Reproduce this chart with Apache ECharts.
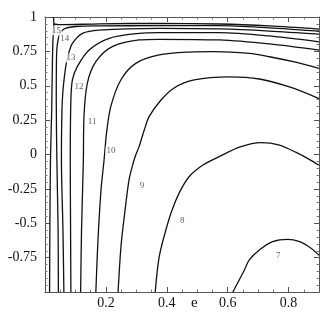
<!DOCTYPE html>
<html>
<head>
<meta charset="utf-8">
<script src="https://cdn.jsdelivr.net/npm/echarts@6/dist/echarts.min.js"></script>
<style>
  html, body { margin: 0; padding: 0; background: #fff; }
  #chart { width: 320px; height: 320px; }
</style>
</head>
<body>
<div id="chart"></div>
<script>
// contour levels, each line as [e, a]
const levels = [15, 14, 13, 12, 11, 10, 9, 8, 7];

const level15 = [
  [0.015, -1], [0.016, -0.549], [0.018, -0.04], [0.022, 0.324], [0.024, 0.615],
  [0.026, 0.833], [0.029, 0.949], [0.028, 1]
];
// branch of 15 running along the top
const level15b = [
  [0.029, 0.949], [0.046, 0.944], [0.178, 0.950], [0.375, 0.954], [0.572, 0.949],
  [0.737, 0.935], [0.9, 0.912]
];
const level14 = [
  [0.044, -1], [0.043, -0.549], [0.039, -0.04], [0.037, 0.396], [0.038, 0.724],
  [0.046, 0.862], [0.0625, 0.913], [0.101, 0.931], [0.178, 0.935], [0.375, 0.937],
  [0.572, 0.937], [0.737, 0.921], [0.9, 0.897]
];
const level13 = [
  [0.062, -1], [0.059, -0.549], [0.054, -0.04], [0.057, 0.396], [0.068, 0.639],
  [0.079, 0.745], [0.090, 0.809], [0.123, 0.881], [0.178, 0.905], [0.375, 0.917],
  [0.572, 0.913], [0.737, 0.898], [0.9, 0.875]
];
const level12 = [
  [0.085, -1], [0.084, -0.549], [0.083, -0.04], [0.085, 0.396], [0.090, 0.542],
  [0.106, 0.639], [0.145, 0.760], [0.211, 0.845], [0.309, 0.881], [0.375, 0.886],
  [0.572, 0.886], [0.737, 0.862], [0.9, 0.819]
];
const level11 = [
  [0.117, -1], [0.120, -0.549], [0.126, -0.04], [0.128, 0.275], [0.139, 0.518],
  [0.167, 0.675], [0.221, 0.784], [0.309, 0.833], [0.375, 0.838], [0.572, 0.833],
  [0.737, 0.804], [0.9, 0.759]
];
const level10 = [
  [0.167, -1], [0.174, -0.622], [0.184, -0.258], [0.194, -0.04], [0.202, 0.154],
  [0.216, 0.348], [0.249, 0.542], [0.298, 0.663], [0.375, 0.724], [0.474, 0.745],
  [0.556, 0.748], [0.671, 0.735], [0.737, 0.711], [0.819, 0.673], [0.9, 0.626]
];
const level9 = [
  [0.240, -1], [0.250, -0.658], [0.263, -0.404], [0.276, -0.185], [0.288, -0.076],
  [0.298, -0.004], [0.309, 0.057], [0.326, 0.178], [0.342, 0.275], [0.381, 0.396],
  [0.424, 0.484], [0.490, 0.542], [0.605, 0.564], [0.704, 0.549], [0.803, 0.491],
  [0.9, 0.407]
];
const level8 = [
  [0.362, -1], [0.375, -0.745], [0.397, -0.549], [0.418, -0.400], [0.443, -0.270],
  [0.474, -0.160], [0.520, -0.075], [0.572, -0.016], [0.641, 0.055], [0.710, 0.086],
  [0.770, 0.069], [0.825, 0.015], [0.868, -0.035], [0.9, -0.078]
];
const level7 = [
  [0.617, -1], [0.655, -0.840], [0.671, -0.767], [0.704, -0.695], [0.748, -0.634],
  [0.797, -0.617], [0.836, -0.634], [0.874, -0.682], [0.9, -0.733]
];

const contourLines = [level15, level15b, level14, level13, level12, level11, level10, level9, level8, level7];

// contour labels
const labelText = ['15', '14', '13', '12', '11', '10', '9', '8', '7'];
const labelE = [0.037, 0.065, 0.085, 0.112, 0.155, 0.217, 0.319, 0.451, 0.766];
const labelA = [0.900, 0.840, 0.702, 0.491, 0.236, 0.025, -0.229, -0.484, -0.738];

const serif = "'Liberation Serif', 'DejaVu Serif', serif";

const chart = echarts.init(document.getElementById('chart'));

const frameAxis = (extra) => Object.assign({
  type: 'value',
  axisLine: { show: true, onZero: false, lineStyle: { color: '#555', width: 1 } },
  axisTick: { show: true, inside: true, length: 5, lineStyle: { color: '#555' } },
  minorTick: { show: true, length: 2.5, lineStyle: { color: '#777' } },
  splitLine: { show: false },
}, extra);

const option = {
  animation: false,
  grid: { left: 45, right: 1, top: 17, bottom: 28, containLabel: false, outerBoundsMode: 'none' },
  xAxis: [
    frameAxis({
      min: 0, max: 0.9, interval: 0.2, position: 'bottom',
      minorTick: { show: true, splitNumber: 4, length: 2.5, lineStyle: { color: '#777' } },
      axisLabel: {
        showMinLabel: false, showMaxLabel: false, margin: 4,
        color: '#111', fontFamily: serif, fontSize: 14,
      },
    }),
    frameAxis({
      min: 0, max: 0.9, interval: 0.2, position: 'top',
      minorTick: { show: true, splitNumber: 4, length: 2.5, lineStyle: { color: '#777' } },
      axisLabel: { show: false },
    }),
  ],
  yAxis: [
    frameAxis({
      min: -1, max: 1, interval: 0.25, position: 'left',
      minorTick: { show: true, splitNumber: 5, length: 2.5, lineStyle: { color: '#777' } },
      axisLabel: {
        showMinLabel: false, margin: 8,
        color: '#111', fontFamily: serif, fontSize: 14,
      },
      name: 'a', nameLocation: 'middle', nameRotate: 90, nameGap: 24,
      nameTextStyle: { fontFamily: serif, fontSize: 15, color: '#111' },
    }),
    frameAxis({
      min: -1, max: 1, interval: 0.25, position: 'right',
      minorTick: { show: true, splitNumber: 5, length: 2.5, lineStyle: { color: '#777' } },
      axisLabel: { show: false },
    }),
  ],
  graphic: [
    {
      type: 'text', left: 191, top: 296,
      style: { text: 'e', font: `15px ${serif}`, fill: '#111' },
    },
  ],
  series: [
    ...contourLines.map((pts) => ({
      type: 'line',
      data: pts,
      showSymbol: false,
      smooth: 0.3,
      lineStyle: { color: '#111', width: 1.3 },
      silent: true,
    })),
    {
      type: 'scatter',
      symbolSize: 0,
      z: 10,
      data: labelText.map((t, i) => [labelE[i], labelA[i], t]),
      label: {
        show: true,
        position: 'inside',
        formatter: (p) => p.value[2],
        fontFamily: serif,
        fontSize: 9,
        color: '#333',
        backgroundColor: '#fff',
        padding: [0, 1],
      },
      labelLayout: { hideOverlap: false },
      silent: true,
    },
  ],
};

chart.setOption(option);
</script>
</body>
</html>
